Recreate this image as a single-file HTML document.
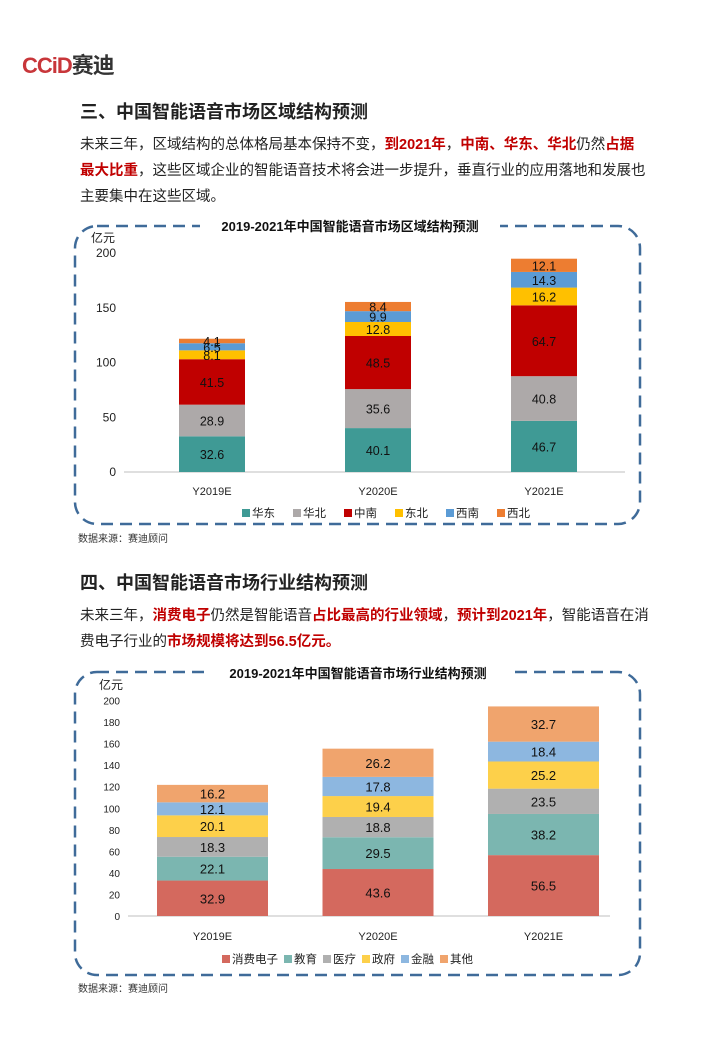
<!DOCTYPE html>
<html><head><meta charset="utf-8">
<style>
body{margin:0;width:719px;height:1039px;position:relative;background:#fff;font-family:"Liberation Sans","Noto Sans CJK SC",sans-serif;overflow:hidden;color:#222}
.a{position:absolute;white-space:nowrap}
.h{font-size:18px;font-weight:bold;left:80px}
.p{font-size:14.5px;left:80px}
.r{color:#c00000;font-weight:bold}
.src{font-size:10px;left:78px;color:#333}
svg{position:absolute;left:0;top:0}
svg text{font-family:"Liberation Sans","Noto Sans CJK SC",sans-serif}
</style></head><body>
<div class="a" style="left:22px;top:48px;font-size:22px;font-weight:bold;letter-spacing:-1px"><span style="color:#c8363a">CCiD</span><span style="color:#333">赛迪</span></div>
<div class="a h" style="top:98px">三、中国智能语音市场区域结构预测</div>
<div class="a p" style="top:133px">未来三年，区域结构的总体格局基本保持不变，<span class="r">到2021年</span>，<span class="r">中南、华东、华北</span>仍然<span class="r">占据</span></div>
<div class="a p" style="top:159px"><span class="r">最大比重</span>，这些区域企业的智能语音技术将会进一步提升，垂直行业的应用落地和发展也</div>
<div class="a p" style="top:185px">主要集中在这些区域。</div>
<div class="a src" style="top:530px">数据来源：赛迪顾问</div>
<div class="a h" style="top:569px">四、中国智能语音市场行业结构预测</div>
<div class="a p" style="top:604px">未来三年，<span class="r">消费电子</span>仍然是智能语音<span class="r">占比最高的行业领域</span>，<span class="r">预计到2021年</span>，智能语音在消</div>
<div class="a p" style="top:630px">费电子行业的<span class="r">市场规模将达到56.5亿元。</span></div>
<div class="a src" style="top:980px">数据来源：赛迪顾问</div>
<svg id="s" width="719" height="1039">
<rect x="75" y="226" width="565" height="298" rx="22" fill="none" stroke="#3f6b99" stroke-width="2.5" stroke-dasharray="12,7"/>
<rect x="200" y="216" width="300" height="20" fill="#fff"/>
<text x="350" y="231" text-anchor="middle" font-size="13" font-weight="bold" fill="#111">2019-2021年中国智能语音市场区域结构预测</text>
<rect x="75" y="672" width="565" height="303" rx="22" fill="none" stroke="#3f6b99" stroke-width="2.5" stroke-dasharray="12,7"/>
<rect x="210" y="662" width="300" height="20" fill="#fff"/>
<text x="358" y="678" text-anchor="middle" font-size="13" font-weight="bold" fill="#111">2019-2021年中国智能语音市场行业结构预测</text>
<g id="c1"></g><g id="c2"></g>
</svg>
<script>
const cats1=["Y2019E","Y2020E","Y2021E"];
const series1=["华东","华北","中南","东北","西南","西北"];
const v1_huadong=[32.6,40.1,46.7];
const v1_huabei=[28.9,35.6,40.8];
const v1_zhongnan=[41.5,48.5,64.7];
const v1_dongbei=[8.1,12.8,16.2];
const v1_xinan=[6.5,9.9,14.3];
const v1_xibei=[4.1,8.4,12.1];
const ticks1=[0,50,100,150,200];
const cats2=["Y2019E","Y2020E","Y2021E"];
const series2=["消费电子","教育","医疗","政府","金融","其他"];
const v2_xiaofei=[32.9,43.6,56.5];
const v2_jiaoyu=[22.1,29.5,38.2];
const v2_yiliao=[18.3,18.8,23.5];
const v2_zhengfu=[20.1,19.4,25.2];
const v2_jinrong=[12.1,17.8,18.4];
const v2_qita=[16.2,26.2,32.7];
const ticks2=[0,20,40,60,80,100,120,140,160,180,200];
const NS="http://www.w3.org/2000/svg";
function mk(p,t,a){const e=document.createElementNS(NS,t);for(const k in a)e.setAttribute(k,a[k]);p.appendChild(e);return e;}
function draw(g,cfg){
  const y=v=>cfg.y0-(v-0)*(cfg.y0-cfg.y1)/200;
  const x=i=>cfg.x0+i*cfg.step;
  cfg.ticks.forEach(t=>{const e=mk(g,'text',{x:cfg.tx,y:y(t)+4,'text-anchor':'end','font-size':cfg.tfs,fill:'#222'});e.textContent=t;
    
    });
  const u=mk(g,'text',{x:cfg.ux,y:cfg.uy,'font-size':12,fill:'#222'});u.textContent='亿元';
  
  
  const ax=mk(g,'line',{x1:cfg.ax0,x2:cfg.ax1,y1:cfg.y0,y2:cfg.y0,stroke:'#ccc','stroke-width':1.2});
  
  
  cfg.cats.forEach((c,i)=>{
    let acc=0;
    cfg.vals.forEach((arr,s)=>{
      const v=arr[i];const top=y(acc+v),bot=y(acc);
      const r=mk(g,'rect',{x:x(i),y:top,width:cfg.bw,height:bot-top,fill:cfg.colors[s]});
      
      
      const t=mk(g,'text',{x:x(i)+cfg.bw/2,y:(top+bot)/2+5,'text-anchor':'middle','font-size':cfg.lfs,fill:'#111'});
      t.textContent=v;
      
      
      acc+=v;});
    const cl=mk(g,'text',{x:x(i)+cfg.bw/2,y:cfg.cy,'text-anchor':'middle','font-size':11,fill:'#222'});cl.textContent=c;
    
    
  });
  let lx=cfg.lx;
  cfg.series.forEach((s,k)=>{
    const r=mk(g,'rect',{x:lx,y:cfg.ly-8,width:8,height:8,fill:cfg.colors[k]});
    
    
    const t=mk(g,'text',{x:lx+10,y:cfg.ly,'font-size':11.5,fill:'#222'});t.textContent=s;
    
    
    lx+=10+s.length*11.5+cfg.lgap;});
}
draw(document.getElementById('c1'),{cats:cats1,series:series1,vals:[v1_huadong,v1_huabei,v1_zhongnan,v1_dongbei,v1_xinan,v1_xibei],
 colors:['#3f9a95','#ada9a9','#c00000','#ffc000','#5b9bd5','#ed7d31'],ticks:ticks1,y0:472,y1:253,x0:179,step:166,bw:66,tx:116,tfs:12,lfs:12.5,
 ux:91,uy:242,ax0:124,ax1:625,cy:495,lx:242,ly:517,lgap:18});
draw(document.getElementById('c2'),{cats:cats2,series:series2,vals:[v2_xiaofei,v2_jiaoyu,v2_yiliao,v2_zhengfu,v2_jinrong,v2_qita],
 colors:['#d4695e','#7bb6b0','#b0b0b0','#fdd04a','#8db7e0','#f0a46d'],ticks:ticks2,y0:916,y1:700.5,x0:157,step:165.5,bw:111,tx:120,tfs:10,lfs:13,
 ux:99,uy:689,ax0:128,ax1:610,cy:940,lx:222,ly:963,lgap:6});
</script>
</body></html>
